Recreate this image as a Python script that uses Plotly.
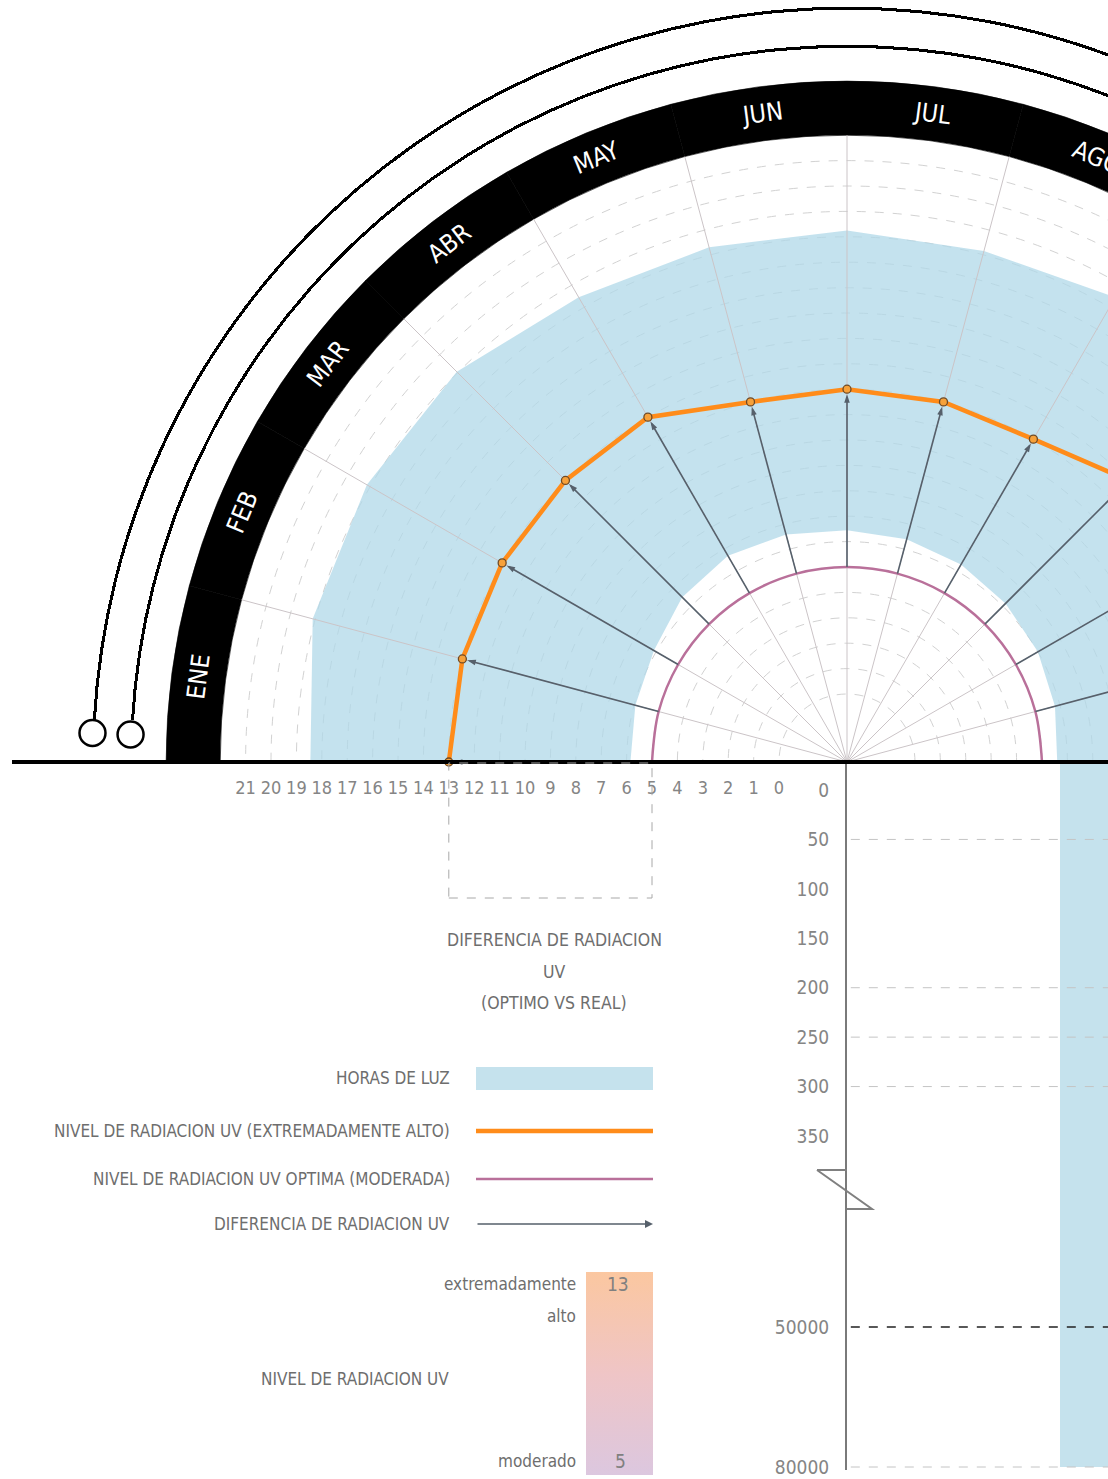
import math
import plotly.graph_objects as go

# ---------------- data ----------------
months = ["ENE", "FEB", "MAR", "ABR", "MAY", "JUN", "JUL", "AGO", "SET", "OCT", "NOV", "DIC"]
month_theta = [172.5, 157.5, 142.5, 127.5, 112.5, 97.5, 82.5, 67.5, 52.5, 37.5, 22.5, 7.5]
point_theta = [180, 165, 150, 135, 120, 105, 90, 75, 60, 45, 30, 15, 0]
uv_real = [13, 13, 13, 13, 13, 12, 12, 12, 12, 13, 13, 13, 13]
uv_optimo = [5, 5, 5, 5, 5, 5, 5, 5, 5, 5, 5, 5, 5]
sunrise = [5.85, 5.95, 6.1, 6.5, 6.7, 6.6, 6.45, 6.4, 6.3, 6.15, 6.0, 5.8, 5.6]
sunset = [18.45, 19.1, 19.15, 19.05, 18.45, 18.3, 18.25, 18.15, 18.45, 18.8, 19.0, 19.1, 19.1]
radial_ticks = list(range(0, 22))
lower_ticks_top = [0, 50, 100, 150, 200, 250, 300, 350]
lower_ticks_bottom = [50000, 80000]
lower_grid_light = [50, 200, 250, 300]
lower_grid_light_bottom = [80000]
lower_grid_dark = [50000]
bar_x = [2]
bar_value = [80000]
uv_scale = [5, 13]

# ---------------- geometry / style ----------------
W, H = 1640, 1479
CX, CY = 847, 762
R_PX = 762
PX_PER_UNIT = 25.4
R_MIN = -68 / PX_PER_UNIT
R_MAX = R_MIN + R_PX / PX_PER_UNIT
BAND_IN, BAND_OUT = 22.0, 24.13
FONT = "Liberation Sans Narrow, DejaVu Sans Condensed, Roboto Condensed, Arial Narrow, sans-serif"
GRAY_TXT = "#6e6e6e"
ORANGE = "#ff8c1a"
PURPLE = "#b9709a"
ARROW = "#56606b"
BLUE_SOLID = "#c5e2ed"

# lower broken axis geometry (page pixels)
TOP_PX_PER_UNIT = (1136 - 790) / 350.0
BOT_PX_PER_UNIT = 140 / 30000.0
TOP_START, TOP_END = CY, 1192
BOT_START, BOT_END = 1188, 1470
TOP_RANGE = [(TOP_END - 790) / TOP_PX_PER_UNIT, (TOP_START - 790) / TOP_PX_PER_UNIT]
BOT_RANGE = [50000 + (BOT_END - 1327) / BOT_PX_PER_UNIT, 50000 + (BOT_START - 1327) / BOT_PX_PER_UNIT]


def fx(x):
    return x / W


def fy(y):
    return 1 - y / H


def rpx(v):
    return (v - R_MIN) * PX_PER_UNIT


fig = go.Figure()

# blue daylight band
fig.add_trace(go.Scatterpolar(
    r=sunset + sunrise[::-1], theta=point_theta + point_theta[::-1],
    mode="lines", fill="toself", fillcolor="rgba(176,216,232,0.75)",
    line=dict(width=0), hoverinfo="skip"))

# spokes
sp_r, sp_t = [], []
for t in point_theta:
    sp_r += [R_MIN, BAND_IN, None]
    sp_t += [t, t, None]
fig.add_trace(go.Scatterpolar(r=sp_r, theta=sp_t, mode="lines",
                              line=dict(color="#cbc4c7", width=1), hoverinfo="skip"))

# black month band
fig.add_trace(go.Barpolar(r=[BAND_OUT - BAND_IN] * 12, base=[BAND_IN] * 12, theta=month_theta,
                          width=[15] * 12, marker=dict(color="black", line=dict(color="black", width=0.6)),
                          hoverinfo="skip"))

# thin outer arcs
fig.add_trace(go.Barpolar(r=[0.12, 0.12], base=[25.44, 26.94], theta=[90, 90], width=[173.3, 173.6],
                          marker=dict(color="black", line=dict(width=0)), hoverinfo="skip"))
fig.add_trace(go.Scatterpolar(r=[25.55, 27.05], theta=[177.8, 177.8], mode="markers", cliponaxis=False,
                              marker=dict(symbol="circle", size=26, color="white",
                                          line=dict(color="black", width=2.5)), hoverinfo="skip"))

# optimum level
fig.add_trace(go.Scatterpolar(r=uv_optimo, theta=point_theta, mode="lines",
                              line=dict(color=PURPLE, width=2.5, shape="spline"), hoverinfo="skip"))

# difference arrows
ar_r, ar_t = [], []
for o, v, t in zip(uv_optimo, uv_real, point_theta):
    ar_r += [o, v - 0.3, None]
    ar_t += [t, t, None]
fig.add_trace(go.Scatterpolar(r=ar_r, theta=ar_t, mode="lines",
                              line=dict(color=ARROW, width=1.6), hoverinfo="skip"))
fig.add_trace(go.Scatterpolar(r=[v - 0.2 for v in uv_real], theta=point_theta, mode="markers",
                              marker=dict(symbol="arrow", size=9, color=ARROW,
                                          angle=[90 - t for t in point_theta]),
                              hoverinfo="skip"))

# real UV level
fig.add_trace(go.Scatterpolar(r=uv_real, theta=point_theta, mode="lines+markers",
                              line=dict(color=ORANGE, width=4.5),
                              marker=dict(size=8, color="#f6a13a", line=dict(color="#6e4a26", width=1.3)),
                              hoverinfo="skip"))

# lower bar chart (broken axis)
fig.add_trace(go.Bar(x=bar_x, y=[v - TOP_RANGE[1] for v in bar_value], base=TOP_RANGE[1], xaxis="x2", yaxis="y2",
                     marker=dict(color=BLUE_SOLID, line=dict(width=0)), width=1, hoverinfo="skip"))
fig.add_trace(go.Bar(x=bar_x, y=[v - BOT_RANGE[1] for v in bar_value], base=BOT_RANGE[1], xaxis="x3", yaxis="y3",
                     marker=dict(color=BLUE_SOLID, line=dict(width=0)), width=1, hoverinfo="skip"))

# radial scale labels (same scale as the polar radial axis, drawn along the baseline)
fig.add_trace(go.Scatter(x=[None], y=[None], xaxis="x4", yaxis="y4", mode="markers",
                         hoverinfo="skip", showlegend=False))

# gradient legend (colorbar)
fig.add_trace(go.Scatter(x=[None, None], y=[None, None], xaxis="x2", yaxis="y2", mode="markers",
                         marker=dict(color=uv_scale, cmin=5, cmax=13,
                                     colorscale=[[0, "#dcc7df"], [0.5, "#efc5c6"], [1, "#fbc7a0"]],
                                     showscale=True,
                                     colorbar=dict(x=fx(586), xanchor="left", y=fy(1272), yanchor="top",
                                                   lenmode="pixels", len=203, thicknessmode="pixels",
                                                   thickness=67, outlinewidth=0, showticklabels=False,
                                                   ticks="", xpad=0, ypad=0)),
                         hoverinfo="skip", showlegend=False))

annotations = []
for m, t in zip(months, month_theta):
    rr = 654
    annotations.append(dict(x=fx(CX + rr * math.cos(math.radians(t))), y=fy(CY - rr * math.sin(math.radians(t))),
                            xref="paper", yref="paper", text=m, showarrow=False, textangle=90 - t,
                            font=dict(family=FONT, size=25, color="white"), xanchor="center", yanchor="middle"))


def label(text, x, y, anchor="right", size=17, color=GRAY_TXT):
    annotations.append(dict(x=fx(x), y=fy(y), xref="paper", yref="paper", text=text, showarrow=False,
                            xanchor=anchor, yanchor="middle", align=anchor,
                            font=dict(family=FONT, size=size, color=color)))


label("DIFERENCIA DE RADIACION", 554, 940, "center", 17.5)
label("UV", 554, 972, "center", 17.5)
label("(OPTIMO VS REAL)", 554, 1003, "center", 17.5)
label("HORAS DE LUZ", 452, 1078)
label("NIVEL DE RADIACION UV (EXTREMADAMENTE ALTO)", 452, 1131)
label("NIVEL DE RADIACION UV OPTIMA (MODERADA)", 452, 1179)
label("DIFERENCIA DE RADIACION UV", 452, 1224)
label("extremadamente", 578, 1284)
label("alto", 578, 1316)
label("NIVEL DE RADIACION UV", 451, 1379)
label("moderado", 578, 1461)
label(str(uv_scale[1]), 618, 1284, "center", 19, "#808080")
label(str(uv_scale[0]), 620, 1461, "center", 19, "#808080")

annotations.append(dict(x=fx(653), y=fy(1224), xref="paper", yref="paper", text="", showarrow=True,
                        ax=-177, ay=0, arrowhead=2, arrowsize=1, arrowwidth=1.6, arrowcolor=ARROW))

shapes = [
    # baseline
    dict(type="line", xref="paper", yref="paper", x0=fx(12), x1=1, y0=fy(CY), y1=fy(CY),
         line=dict(color="black", width=4), layer="above"),
    # dashed bracket between real and optimum levels
    dict(type="rect", xref="paper", yref="paper", x0=fx(CX - rpx(13)), x1=fx(CX - rpx(5)),
         y0=fy(898), y1=fy(CY + 1), line=dict(color="#a8a8a8", width=1, dash="dash")),
    # legend swatches
    dict(type="rect", xref="paper", yref="paper", x0=fx(476), x1=fx(653), y0=fy(1090), y1=fy(1067),
         fillcolor=BLUE_SOLID, line=dict(width=0)),
    dict(type="line", xref="paper", yref="paper", x0=fx(476), x1=fx(653), y0=fy(1131), y1=fy(1131),
         line=dict(color=ORANGE, width=4.5)),
    dict(type="line", xref="paper", yref="paper", x0=fx(476), x1=fx(653), y0=fy(1179), y1=fy(1179),
         line=dict(color=PURPLE, width=2.5)),
    # axis break symbol
    dict(type="path", xref="paper", yref="paper",
         path=(f"M{fx(817)},{fy(1170)} L{fx(847)},{fy(1170)} M{fx(817)},{fy(1170)} "
               f"L{fx(872)},{fy(1209)} L{fx(847)},{fy(1209)}"),
         line=dict(color="#808080", width=2)),
]
for v in lower_grid_light:
    shapes.append(dict(type="line", xref="x2 domain", yref="y2", x0=0.005, x1=1, y0=v, y1=v,
                       line=dict(color="#c4c4c4", width=1, dash="dash"), layer="above"))
for v in lower_grid_light_bottom:
    shapes.append(dict(type="line", xref="x3 domain", yref="y3", x0=0.005, x1=1, y0=v, y1=v,
                       line=dict(color="#c4c4c4", width=1, dash="dash"), layer="above"))
for v in lower_grid_dark:
    shapes.append(dict(type="line", xref="x3 domain", yref="y3", x0=0.005, x1=1, y0=v, y1=v,
                       line=dict(color="#222222", width=1.6, dash="dash"), layer="above"))

tickfont = dict(family=FONT, size=19, color="#858585")
fig.update_layout(
    template="none",
    width=W, height=H, margin=dict(l=0, r=0, t=0, b=0, autoexpand=False),
    paper_bgcolor="white", plot_bgcolor="white", showlegend=False,
    polar=dict(
        domain=dict(x=[fx(CX - R_PX), fx(CX + R_PX)], y=[fy(CY), fy(CY - R_PX)]),
        sector=[0, 180], bgcolor="rgba(0,0,0,0)", hole=0,
        radialaxis=dict(range=[R_MIN, R_MAX], tickvals=radial_ticks, showticklabels=False,
                        angle=180, showline=False, showgrid=True,
                        gridcolor="#d2d2d2", griddash="dash", gridwidth=1, ticks=""),
        angularaxis=dict(rotation=0, direction="counterclockwise", showline=False, showgrid=False,
                         showticklabels=False, ticks=""),
    ),
    xaxis4=dict(domain=[fx(CX - R_PX), fx(CX)], range=[R_MAX, R_MIN], anchor="y4", side="bottom",
                tickvals=radial_ticks, ticktext=[str(t) for t in radial_ticks], showline=False,
                showgrid=False, zeroline=False, ticks="outside", ticklen=8, tickcolor="rgba(0,0,0,0)",
                tickfont=dict(family=FONT, size=18, color="#858585"), automargin=False),
    yaxis4=dict(domain=[fy(CY + 1), fy(CY)], range=[0, 1], anchor="x4", visible=False),
    xaxis2=dict(domain=[fx(CX), fx(CX + R_PX)], range=[0, 5.366], anchor="y2", visible=False),
    yaxis2=dict(domain=[fy(TOP_END), fy(TOP_START)], range=TOP_RANGE, anchor="x2", tickvals=lower_ticks_top,
                showline=True, linecolor="#7a7a7a", linewidth=2, showgrid=False, zeroline=False,
                ticks="outside", ticklen=12, tickcolor="rgba(0,0,0,0)", tickfont=tickfont, automargin=False),
    xaxis3=dict(domain=[fx(CX), fx(CX + R_PX)], range=[0, 5.366], anchor="y3", visible=False),
    yaxis3=dict(domain=[fy(BOT_END), fy(BOT_START)], range=BOT_RANGE, anchor="x3", tickvals=lower_ticks_bottom,
                tickformat="d", showline=True, linecolor="#7a7a7a", linewidth=2, showgrid=False,
                zeroline=False, ticks="outside", ticklen=12, tickcolor="rgba(0,0,0,0)", tickfont=tickfont,
                automargin=False),
    annotations=annotations, shapes=shapes, bargap=0,
)

fig.write_html("out.html", post_script="document.body.style.margin='0px';")
